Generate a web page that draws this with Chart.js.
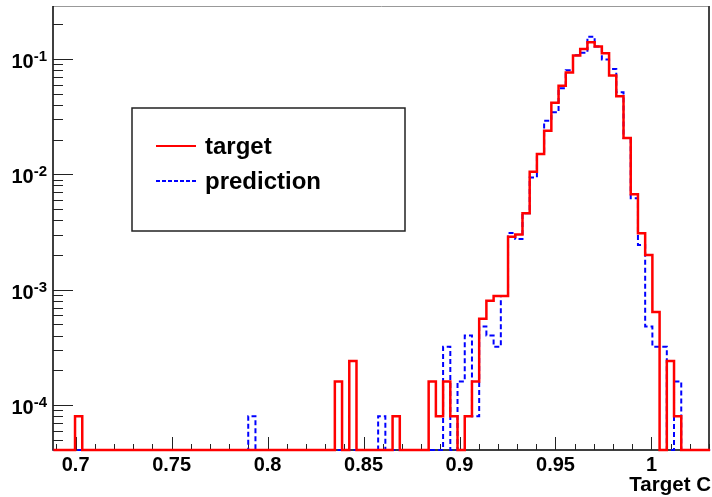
<!DOCTYPE html>
<html>
<head>
<meta charset="utf-8">
<title>Target C</title>
<script src="https://cdn.jsdelivr.net/npm/chart.js@4.4.1/dist/chart.umd.min.js"></script>
<style>
  html, body { margin: 0; padding: 0; background: #fff; }
  #wrap { width: 712px; height: 497px; position: relative; }
</style>
</head>
<body>
<div id="wrap"><canvas id="chart"></canvas></div>
<script>
// binning of the histogram
const binStart = 0.6884;
const binWidth = 0.00376;

// bin contents (0 = empty bin)
const target = [
  0, 0, 0, 8e-5, 0, 0, 0, 0, 0, 0,
  0, 0, 0, 0, 0, 0, 0, 0, 0, 0,
  0, 0, 0, 0, 0, 0, 0, 0, 0, 0,
  0, 0, 0, 0, 0, 0, 0, 0, 0, 1.6e-4,
  0, 2.4e-4, 0, 0, 0, 0, 0, 8e-5, 0, 0,
  0, 0, 1.6e-4, 8e-5, 1.6e-4, 8e-5, 0, 8e-5, 1.6e-4, 5.6e-4,
  8.0e-4, 8.8e-4, 8.8e-4, 2.88e-3, 3.0e-3, 4.6e-3, 1.05e-2, 1.5e-2, 2.39e-2, 4.18e-2,
  5.87e-2, 7.65e-2, 0.107, 0.122, 0.140, 0.128, 0.112, 0.072, 0.0475, 0.0206,
  6.7e-3, 3.08e-3, 2.0e-3, 6.4e-4, 0, 2.4e-4, 8e-5, 0, 0, 0,
  0
];
const prediction = [
  0, 0, 0, 0, 0, 0, 0, 0, 0, 0,
  0, 0, 0, 0, 0, 0, 0, 0, 0, 0,
  0, 0, 0, 0, 0, 0, 0, 8e-5, 0, 0,
  0, 0, 0, 0, 0, 0, 0, 0, 0, 0,
  0, 0, 0, 0, 0, 8e-5, 0, 0, 0, 0,
  0, 0, 0, 0, 3.2e-4, 0, 1.6e-4, 4.0e-4, 8e-5, 4.8e-4,
  4.0e-4, 3.2e-4, 8.8e-4, 3.1e-3, 2.75e-3, 4.6e-3, 9.4e-3, 1.5e-2, 2.92e-2, 3.45e-2,
  5.57e-2, 8.0e-2, 0.108, 0.113, 0.156, 0.128, 0.099, 0.082, 0.0514, 0.0206,
  6.2e-3, 2.44e-3, 4.8e-4, 3.2e-4, 3.2e-4, 0, 1.6e-4, 0, 0, 0,
  0
];

const xTicks = [0.7, 0.75, 0.8, 0.85, 0.9, 0.95, 1];
const xTickLabels = ["0.7", "0.75", "0.8", "0.85", "0.9", "0.95", "1"];
const yDecades = [-4, -3, -2, -1];
const xTitle = "Target C";
const seriesNames = ["target", "prediction"];

const xMin = 0.6882, xMax = 1.0305;
const yMin = 4.07e-5, yMax = 0.288;
const FONT = '"Liberation Sans", Arial, Helvetica, sans-serif';

// histogram outline: one point per low bin edge plus the closing edge
function toSteps(values) {
  const pts = values.map((v, i) => ({ x: binStart + i * binWidth, y: v > 0 ? v : yMin }));
  const last = values[values.length - 1];
  pts.push({ x: binStart + values.length * binWidth, y: last > 0 ? last : yMin });
  return pts;
}

// ROOT style frame: inward ticks, labels, axis title
const rootFrame = {
  id: "rootFrame",
  beforeDatasetsDraw(chart) {
    const ctx = chart.ctx;
    const a = chart.chartArea;
    const xs = chart.scales.x, ys = chart.scales.y;
    ctx.save();
    // frame
    ctx.strokeStyle = "#999";
    ctx.lineWidth = 1;
    ctx.beginPath();
    ctx.moveTo(a.left, a.top + 0.5);
    ctx.lineTo(a.right, a.top + 0.5);
    ctx.stroke();
    ctx.strokeStyle = "#444";
    ctx.lineWidth = 2;
    ctx.beginPath();
    ctx.moveTo(a.right - 1, a.top);
    ctx.lineTo(a.right - 1, a.bottom);
    ctx.stroke();
    ctx.strokeStyle = "#000";
    ctx.lineWidth = 1.5;
    ctx.beginPath();
    ctx.moveTo(a.left, a.top);
    ctx.lineTo(a.left, a.bottom);
    ctx.lineTo(a.right, a.bottom);
    ctx.stroke();

    // x ticks, every 0.01
    ctx.lineWidth = 1;
    ctx.strokeStyle = "#222";
    ctx.beginPath();
    for (let i = 69; i <= 103; i++) {
      const v = i / 100;
      if (v < xMin || v > xMax) continue;
      const px = Math.round(xs.getPixelForValue(v)) + 0.5;
      const len = i % 5 === 0 ? 13 : 6;
      ctx.moveTo(px, a.bottom);
      ctx.lineTo(px, a.bottom - len);
    }
    // y ticks, 1..9 per decade
    for (let d = -5; d <= 0; d++) {
      for (let m = 1; m <= 9; m++) {
        const v = m * Math.pow(10, d);
        if (v < yMin || v > yMax) continue;
        const py = Math.round(ys.getPixelForValue(v)) + 0.5;
        const len = m === 1 ? 20 : 10;
        ctx.moveTo(a.left, py);
        ctx.lineTo(a.left + len, py);
      }
    }
    ctx.stroke();

    // x labels
    ctx.fillStyle = "#000";
    ctx.font = "bold 20px " + FONT;
    ctx.textAlign = "center";
    ctx.textBaseline = "alphabetic";
    xTicks.forEach((v, i) => {
      ctx.fillText(xTickLabels[i], xs.getPixelForValue(v), a.bottom + 21);
    });

    // y labels 10^k
    yDecades.forEach(d => {
      const py = ys.getPixelForValue(Math.pow(10, d));
      const exp = String(d);
      ctx.font = "bold 15px " + FONT;
      const ew = ctx.measureText(exp).width;
      const right = a.left - 6;
      ctx.textAlign = "left";
      ctx.fillText(exp, right - ew, py + 2);
      ctx.font = "bold 20px " + FONT;
      ctx.textAlign = "right";
      ctx.fillText("10", right - ew, py + 9);
    });

    // axis title
    ctx.font = "bold 20.5px " + FONT;
    ctx.textAlign = "right";
    ctx.fillText(xTitle, 711, 491);
    ctx.restore();
  },
  afterDatasetsDraw(chart) {
    // legend box
    const ctx = chart.ctx;
    ctx.save();
    ctx.fillStyle = "#fff";
    ctx.fillRect(132, 108, 273, 123);
    ctx.strokeStyle = "#222";
    ctx.lineWidth = 1.5;
    ctx.strokeRect(132, 108, 273, 123);
    const rows = [146, 181];
    chart.data.datasets.forEach((ds, i) => {
      ctx.strokeStyle = ds.borderColor;
      ctx.lineWidth = 2;
      ctx.setLineDash(ds.borderDash ? [4, 2] : []);
      ctx.beginPath();
      ctx.moveTo(156, rows[i]);
      ctx.lineTo(196, rows[i]);
      ctx.stroke();
      ctx.setLineDash([]);
      ctx.fillStyle = "#000";
      ctx.font = "bold 24px " + FONT;
      ctx.textAlign = "left";
      ctx.textBaseline = "alphabetic";
      ctx.fillText(ds.label, 205, rows[i] + 8);
    });
    ctx.restore();
  }
};

new Chart(document.getElementById("chart"), {
  type: "line",
  data: {
    datasets: [
      {
        label: seriesNames[0],
        data: toSteps(target),
        borderColor: "#ff0000",
        borderWidth: 2.5,
        stepped: true,
        pointRadius: 0,
        fill: false,
        clip: false
      },
      {
        label: seriesNames[1],
        data: toSteps(prediction),
        borderColor: "#0000ff",
        borderWidth: 2,
        borderDash: [5, 3],
        stepped: true,
        pointRadius: 0,
        fill: false,
        clip: false
      }
    ]
  },
  options: {
    responsive: true,
    maintainAspectRatio: false,
    animation: false,
    events: [],
    layout: { padding: { left: 53, top: 6, right: 2, bottom: 47 } },
    plugins: {
      legend: { display: false },
      tooltip: { enabled: false }
    },
    scales: {
      x: { type: "linear", min: xMin, max: xMax, display: false },
      y: { type: "logarithmic", min: yMin, max: yMax, display: false }
    }
  },
  plugins: [rootFrame]
});
</script>
</body>
</html>
